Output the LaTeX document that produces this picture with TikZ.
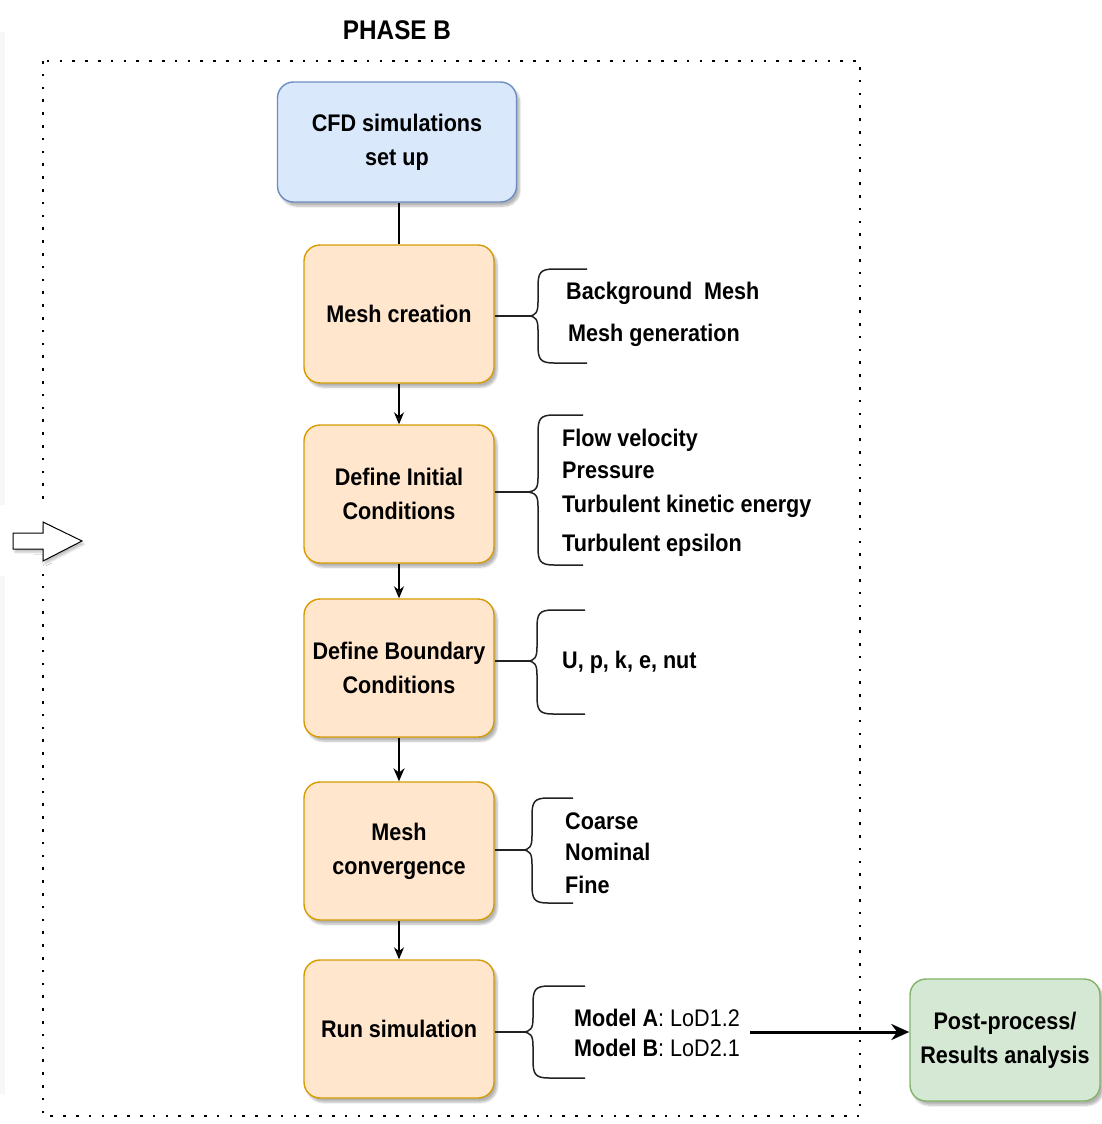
\documentclass[tikz,border=0pt]{standalone}
\usepackage{fontspec}
\setmainfont{Liberation Sans}[FakeStretch=0.9]
\usetikzlibrary{arrows.meta,shadows.blur}

\definecolor{bluefill}{HTML}{DAE8FC}
\definecolor{blueline}{HTML}{6C8EBF}
\definecolor{orfill}{HTML}{FFE6CC}
\definecolor{orline}{HTML}{D79B00}
\definecolor{grfill}{HTML}{D5E8D4}
\definecolor{grline}{HTML}{82B366}
\definecolor{inkgray}{HTML}{222222}

% curly bracket opening to the right:
% #1 end of tails, #2 spine x, #3 tip x, #4 top y, #5 tip y, #6 bottom y
\newcommand{\curlyb}[6]{%
  \draw[bracestyle] (#1,#4) -- ({#2+16},#4) .. controls ({#2+2},#4) and (#2,{#4+4}) .. (#2,{#4+18})
    -- (#2,{#5-14}) .. controls (#2,{#5-4}) and ({#2-2},#5) .. (#3,#5)
    .. controls ({#2-2},#5) and (#2,{#5+4}) .. (#2,{#5+14})
    -- (#2,{#6-18}) .. controls (#2,{#6-4}) and ({#2+2},#6) .. ({#2+16},#6) -- (#1,#6);}

\tikzset{
  box/.style={draw, rounded corners=16pt, line width=1.4pt, align=center,
    inner sep=0pt, text=black, font=\bfseries\fontsize{24}{34}\selectfont,
    blur shadow={shadow xshift=3pt, shadow yshift=-4pt, shadow opacity=30,
      shadow blur steps=6}},
  stepbox/.style={box, fill=orfill, draw=orline,
    minimum width=190pt, minimum height=138pt},
  sidetext/.style={anchor=west, inner sep=0pt,
    font=\bfseries\fontsize{24}{28}\selectfont},
  flow/.style={line width=1.3pt, -{Stealth[length=12pt,width=10pt]}},
  thickflow/.style={line width=2.4pt, -{Stealth[length=13pt,width=11pt]}},
  bigflow/.style={line width=3pt, -{Stealth[length=18pt,width=16pt]}},
  bracestyle/.style={draw=inkgray, line width=1.5pt},
  link/.style={draw=inkgray, line width=1.5pt},
  frame/.style={line width=2.6pt, dash pattern=on 2.6pt off 10.2pt}
}

\begin{document}
\begin{tikzpicture}[x=1pt, y=-1pt]
\useasboundingbox (0,0) rectangle (1102,1124);

% faint band along the left edge
\fill[black!3] (0,32) rectangle (5,505);
\fill[black!3] (0,576) rectangle (5,1094);

% dotted phase frame and its title
\draw[frame] (43,61) rectangle (860,1116);
\node[font=\bfseries\fontsize{27}{30}\selectfont] (title) at (397,30) {PHASE B};

% entry arrow on the left side of the frame
\fill[white] (34,504) rectangle (52,574);
\draw[line width=1pt, fill=white,
  blur shadow={shadow xshift=2pt, shadow yshift=-3pt, shadow opacity=25}]
  (13,533) -- (43,533) -- (43,522) -- (82,541) -- (43,561) -- (43,549) -- (13,549) -- cycle;

% main steps
\node[box, fill=bluefill, draw=blueline, minimum width=239pt, minimum height=120pt]
  (cfd) at (397,142) {CFD simulations\\set up};
\node[stepbox] (mesh) at (399,314) {Mesh creation};
\node[stepbox] (init) at (399,494) {Define Initial\\Conditions};
\node[stepbox] (bound) at (399,668) {Define Boundary\\Conditions};
\node[stepbox] (conv) at (399,851) {Mesh\\convergence};
\node[stepbox] (run) at (399,1029) {Run simulation};
\node[box, fill=grfill, draw=grline, minimum width=190pt, minimum height=122pt]
  (post) at (1005,1040) {Post-process/\\Results analysis};

% connectors between steps
\draw[line width=1.3pt] (cfd.south -| mesh.north) -- (mesh.north);
\draw[flow] (mesh) -- (init);
\draw[flow] (init) -- (bound);
\draw[thickflow] (bound) -- (conv);
\draw[flow] (conv) -- (run);

% brackets with their details
\coordinate (tipmesh) at (528,316);
\curlyb{587}{538}{528}{269}{316}{363}
\draw[link] (tipmesh -| mesh.east) -- (tipmesh);
\node[sidetext] (bgmesh) at (566,293) {Background\enspace Mesh};
\node[sidetext] (meshgen) at (568,335) {Mesh generation};

\coordinate (tipinit) at (525,492);
\curlyb{583}{538}{525}{415}{492}{565}
\draw[link] (tipinit -| init.east) -- (tipinit);
\node[sidetext] (flowvel) at (562,440) {Flow velocity};
\node[sidetext] (press) at (562,470) {Pressure};
\node[sidetext] (tke) at (562,506) {Turbulent kinetic energy};
\node[sidetext] (teps) at (562,545) {Turbulent epsilon};

\coordinate (tipbound) at (527,661);
\curlyb{585}{537}{527}{610}{661}{714}
\draw[link] (tipbound -| bound.east) -- (tipbound);
\node[sidetext] (vars) at (562,662) {U, p, k, e, nut};

\coordinate (tipconv) at (522,850);
\curlyb{573}{532}{522}{798}{850}{903}
\draw[link] (tipconv -| conv.east) -- (tipconv);
\node[sidetext] (coarse) at (565,821) {Coarse};
\node[sidetext] (nominal) at (565,852) {Nominal};
\node[sidetext] (fine) at (565,885) {Fine};

\coordinate (tiprun) at (522,1032);
\curlyb{585}{533}{522}{986}{1032}{1078}
\draw[link] (tiprun -| run.east) -- (tiprun);
\node[sidetext] (moda) at (574,1018) {Model A\mdseries: LoD1.2};
\node[sidetext] (modb) at (574,1048) {Model B\mdseries: LoD2.1};

% hand-over to post-processing
\coordinate (runout) at (750,1032);
\draw[bigflow] (runout) -- (runout -| post.west);
\end{tikzpicture}
\end{document}
